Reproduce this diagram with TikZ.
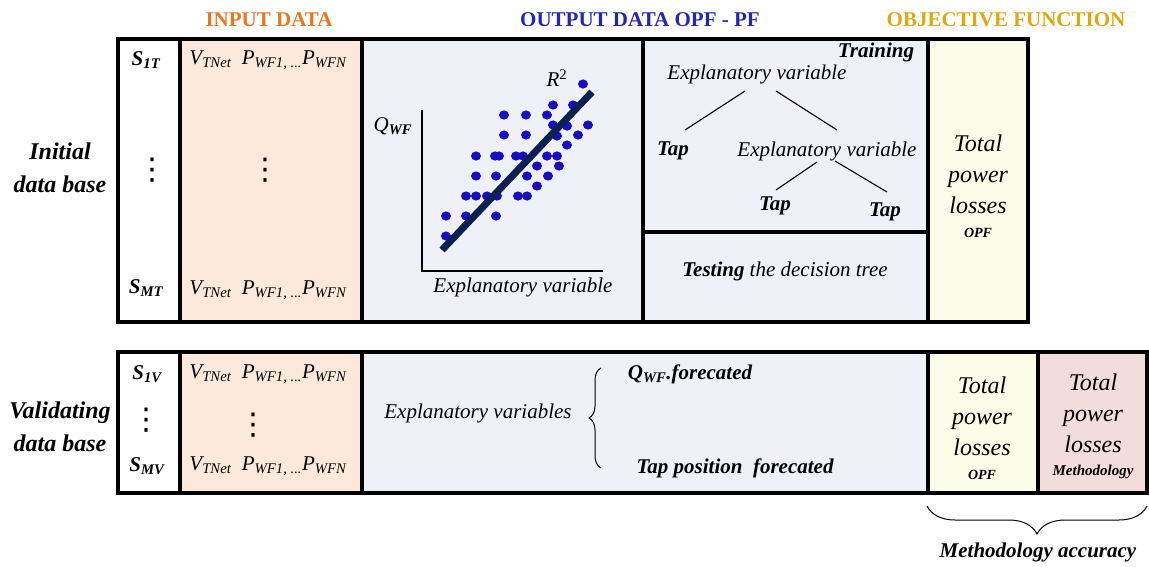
\documentclass[tikz,border=0pt]{standalone}
\usepackage{fontspec}
\setmainfont{Liberation Serif}
\newfontfamily\symfont{DejaVu Sans}
\usetikzlibrary{decorations.pathreplacing}

\definecolor{inpeach}{HTML}{FCE9DB}
\definecolor{outgray}{HTML}{EEF2F8}
\definecolor{objyellow}{HTML}{FBFDE8}
\definecolor{methpink}{HTML}{F3DCDC}
\definecolor{dotblue}{HTML}{1A0DBF}
\definecolor{fitnavy}{HTML}{0D2050}
\definecolor{hdrorange}{HTML}{E87722}
\definecolor{hdrblue}{HTML}{2626B5}
\definecolor{hdrgold}{HTML}{E0A810}

\newcommand{\sbt}[1]{\textsubscript{#1}}

\tikzset{
  frame/.style={draw=black, line width=3.5pt},
  thin/.style={draw=black, line width=1.1pt},
  lbl/.style={font=\fontsize{21}{25}\selectfont\itshape, inner sep=0pt},
  blbl/.style={font=\fontsize{21}{25}\selectfont\bfseries\itshape, inner sep=0pt},
  rowlbl/.style={font=\fontsize{24}{33}\selectfont\bfseries\itshape, align=center, inner sep=0pt},
  hdr/.style={font=\fontsize{21}{25}\selectfont\bfseries, inner sep=0pt},
  loss/.style={font=\fontsize{24}{31}\selectfont\itshape, align=center, inner sep=0pt},
  small/.style={font=\fontsize{14}{16}\selectfont\bfseries\itshape, inner sep=0pt},
  vdot/.style={font=\fontsize{30}{30}\selectfont\symfont, inner sep=0pt},
}

\begin{document}
\begin{tikzpicture}[x=1pt,y=-1pt]
\useasboundingbox (0,0) rectangle (1149,566);

% ---- column headers
\node[hdr, text=hdrorange] (hIn)  at (269,20) {INPUT DATA};
\node[hdr, text=hdrblue]   (hOut) at (640,20) {OUTPUT DATA OPF - PF};
\node[hdr, text=hdrgold]   (hObj) at (1006,20) {OBJECTIVE FUNCTION};

% ---- initial data base: cell fills
\fill[white]     (118,39) rectangle (180,322);
\fill[inpeach]   (180,39) rectangle (362,322);
\fill[outgray]   (362,39) rectangle (928,322);
\fill[objyellow] (928,39) rectangle (1028,322);
% cell borders
\draw[frame] (118,39) rectangle (1028,322);
\draw[frame] (180,39) -- (180,322);
\draw[frame] (362,39) -- (362,322);
\draw[frame] (643,39) -- (643,322);
\draw[frame] (928,39) -- (928,322);
\draw[frame] (643,232) -- (928,232);

\node[rowlbl] (init) at (60,168) {Initial\\data base};

% scenario column
\node[blbl] (s1t) at (146,60) {S\sbt{1T}};
\node[vdot] (d1)  at (152,170) {⋮};
\node[blbl] (smt) at (146,288) {S\sbt{MT}};

% input column
\node[lbl] (in1) at (268,60)  {V\sbt{TNet}\ \ P\sbt{WF1, ...}P\sbt{WFN}};
\node[vdot] (d2) at (265,170) {⋮};
\node[lbl] (in2) at (268,290) {V\sbt{TNet}\ \ P\sbt{WF1, ...}P\sbt{WFN}};

% regression scatter plot
\coordinate (ax0) at (422,271);
\coordinate (axy) at (422,110);
\coordinate (axx) at (603,271);
\draw[thin] (axy) -- (ax0) -- (axx);
\node[lbl] (qwf) at (393,126) {Q\sbt{\bfseries WF}};
\node[lbl] (xlab) at (523,287) {Explanatory variable};
\node[lbl] (r2) at (557,78) {R\textsuperscript{\upshape 2}};
\foreach \px/\py in {583/84, 553/105, 573/105, 504/115, 526/115, 547/115,
  553/125, 567/126, 588/125, 504/135, 526/135, 557/136, 578/135, 567/145,
  476/156, 495/156, 499/156, 516/156, 523/156, 547/156, 557/156,
  537/166, 559/166, 476/176, 496/176, 527/176, 548/176, 537/186,
  466/196, 476/196, 487/196, 497/196, 518/196, 527/196,
  446/216, 466/216, 496/216, 446/236}
  \fill[dotblue] (\px,\py) ellipse (5pt and 4.6pt);
\coordinate (fitA) at (442,250);
\coordinate (fitB) at (592,92);
\draw[fitnavy, line width=7pt] (fitA) -- (fitB);

% decision tree (training)
\node[blbl] (train) at (876,52) {Training};
\node[lbl] (ev1) at (757,74) {Explanatory variable};
\node[blbl] (tap1) at (673,151) {Tap};
\node[lbl] (ev2) at (827,151) {Explanatory variable};
\node[blbl] (tap2) at (775,206) {Tap};
\node[blbl] (tap3) at (885,212) {Tap};
\coordinate (e1l) at (745,91);
\coordinate (e1r) at (776,91);
\coordinate (t1t) at (685,130);
\coordinate (e2t) at (837,130);
\coordinate (e2l) at (817,162);
\coordinate (e2r) at (835,161);
\coordinate (t2t) at (776,190);
\coordinate (t3t) at (887,192);
\draw[thin] (e1l) -- (t1t);
\draw[thin] (e1r) -- (e2t);
\draw[thin] (e2l) -- (t2t);
\draw[thin] (e2r) -- (t3t);

% testing
\node[lbl] (test) at (785,271) {\bfseries Testing\mdseries\ the decision\ tree};

% objective function (OPF)
\node[loss] (tpl1) at (978,174) {Total\\power\\losses};
\node[small] (opf1) at (978,233) {OPF};

% ---- validating data base: cell fills
\fill[white]     (118,352) rectangle (180,493);
\fill[inpeach]   (180,352) rectangle (362,493);
\fill[outgray]   (362,352) rectangle (928,493);
\fill[objyellow] (928,352) rectangle (1038,493);
\fill[methpink]  (1038,352) rectangle (1147,493);
\draw[frame] (118,352) rectangle (1147,493);
\draw[frame] (180,352) -- (180,493);
\draw[frame] (362,352) -- (362,493);
\draw[frame] (928,352) -- (928,493);
\draw[frame] (1038,352) -- (1038,493);

\node[rowlbl] (valid) at (60,427) {Validating\\data base};

\node[blbl] (s1v) at (147,374) {S\sbt{1V}};
\node[vdot] (d3)  at (146,420) {⋮};
\node[blbl] (smv) at (147,466) {S\sbt{MV}};

\node[lbl] (in3) at (268,374) {V\sbt{TNet}\ \ P\sbt{WF1, ...}P\sbt{WFN}};
\node[vdot] (d4) at (253,425) {⋮};
\node[lbl] (in4) at (268,466) {V\sbt{TNet}\ \ P\sbt{WF1, ...}P\sbt{WFN}};

% forecasting with the explanatory variables
\node[lbl] (evs) at (478,413) {Explanatory variables};
\coordinate (brB) at (601,468);
\coordinate (brT) at (601,368);
\draw[thin, line width=1pt, decoration={brace, amplitude=12pt}, decorate] (brB) -- (brT);
\node[blbl] (qf) at (690,374) {Q\sbt{WF}.forecated};
\node[blbl] (tf) at (735,468) {Tap position\ \ forecated};

% objective values
\node[loss] (tpl2) at (982,416) {Total\\power\\losses};
\node[small] (opf2) at (982,475) {OPF};
\node[loss] (tpl3) at (1093,413) {Total\\power\\losses};
\node[font=\fontsize{15}{17}\selectfont\bfseries\itshape, inner sep=0pt] (meth) at (1093,472) {Methodology};

% accuracy brace
\coordinate (acL) at (927,506);
\coordinate (acR) at (1147,506);
\draw[thin, line width=1pt, decoration={brace, amplitude=28pt}, decorate] (acR) -- (acL);
\node[blbl] (acc) at (1038,552) {Methodology accuracy};
\end{tikzpicture}
\end{document}
